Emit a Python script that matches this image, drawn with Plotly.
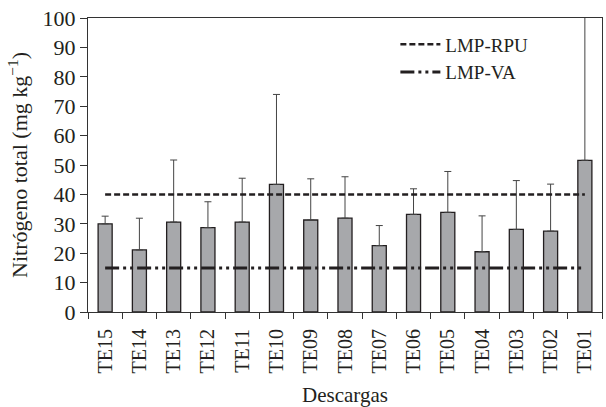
import plotly.graph_objects as go

categories = ["TE15", "TE14", "TE13", "TE12", "TE11", "TE10", "TE09", "TE08",
              "TE07", "TE06", "TE05", "TE04", "TE03", "TE02", "TE01"]
means = [30.0, 21.1, 30.6, 28.7, 30.6, 43.4, 31.3, 31.9, 22.6, 33.2, 33.9, 20.5, 28.1, 27.5, 51.6]
upper_err = [2.6, 10.8, 21.1, 8.8, 14.9, 30.6, 14.0, 14.1, 6.8, 8.7, 13.9, 12.2, 16.6, 16.0, 70.0]
lmp_rpu = 40
lmp_va = 15
yticks = [0, 10, 20, 30, 40, 50, 60, 70, 80, 90, 100]

FONT = "Liberation Serif, Times New Roman, serif"
INK = "#231f20"

fig = go.Figure()
fig.add_trace(go.Bar(
    x=categories, y=means, width=0.41,
    marker=dict(color="#a7a8ab", line=dict(color=INK, width=1.3)),
    error_y=dict(type="data", symmetric=False, array=upper_err,
                 arrayminus=[0] * len(means), color="#444", thickness=1, width=3.5),
    showlegend=False,
))
fig.add_trace(go.Scatter(
    x=[categories[0], categories[-1]], y=[lmp_rpu, lmp_rpu], mode="lines",
    name="LMP-RPU", line=dict(color=INK, width=2.5, dash="6px,3px"),
))
fig.add_trace(go.Scatter(
    x=[categories[0], categories[-1]], y=[lmp_va, lmp_va], mode="lines",
    name="LMP-VA", line=dict(color=INK, width=3, dash="14px,4px,3px,4px,3px,4px"),
))

fig.update_layout(
    width=606, height=407,
    margin=dict(l=88, r=4, t=18, b=95),
    plot_bgcolor="white", paper_bgcolor="white",
    font=dict(family=FONT, size=21, color=INK),
    legend=dict(x=0.598, y=0.975, xanchor="left", yanchor="top",
                bgcolor="rgba(0,0,0,0)", font=dict(size=19),
                tracegroupgap=0, itemwidth=40),
    xaxis=dict(
        type="category", range=[-0.5, 14.5], automargin=False,
        showline=True, linecolor="#333", linewidth=1, mirror=True,
        ticks="outside", tickson="boundaries", ticklen=6, tickcolor="#333",
        tickangle=-90, tickfont=dict(size=20), ticklabelstandoff=8,
        title=dict(text="Descargas", font=dict(size=21), standoff=18),
        showgrid=False,
    ),
    yaxis=dict(
        range=[0, 100], tickvals=yticks, automargin=False,
        showline=True, linecolor="#333", linewidth=1, mirror=True,
        ticks="outside", ticklen=7, tickcolor="#333",
        tickfont=dict(size=22),
        title=dict(text="Nitrógeno total (mg kg<sup>−1</sup>)", font=dict(size=22), standoff=8),
        showgrid=False, zeroline=False,
    ),
)

fig.write_html("out.html", config={"displayModeBar": False},
               post_script="document.body.style.margin='0';document.body.style.overflow='hidden';")
